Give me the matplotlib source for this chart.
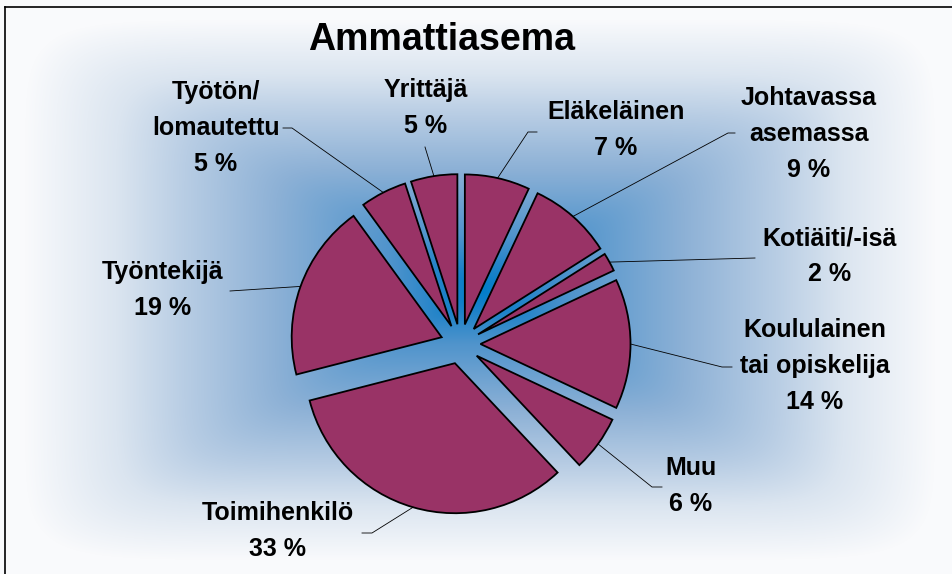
import numpy as np
import matplotlib
matplotlib.use("Agg")
import matplotlib.pyplot as plt

# data
categories = ["Eläkeläinen", "Johtavassa\nasemassa", "Kotiäiti/-isä",
              "Koululainen\ntai opiskelija", "Muu", "Toimihenkilö",
              "Työntekijä", "Työtön/\nlomautettu", "Yrittäjä"]
shares = [7, 9, 2, 14, 6, 33, 19, 5, 5]
chart_title = "Ammattiasema"

# label block centres and leader line tails (pixel coords, y from top)
label_pos = [(616, 130), (809, 134), (830, 256), (815, 366), (691, 486),
             (278, 531), (163, 290), (216, 128), (426, 108)]
leader_tail = [[(528, 132), (537, 132)], [(728, 133), (735, 133)], [(755, 258)],
               [(722, 367), (732, 367)], [(652, 487), (662, 487)],
               [(372, 533), (362, 533)], [(230, 291)],
               [(292, 128), (283, 128)], [(425, 147)]]

W, H = 953, 574


def fy(y):
    return H - y


plt.rcParams['font.family'] = ['Liberation Sans', 'DejaVu Sans']

fig = plt.figure(figsize=(W / 100, H / 100), dpi=100)
ax = fig.add_axes([0, 0, 1, 1])

###############################################################################
# background: rectangular gradient, blue centre fading to white
cx, cy, hx, hy = 480, 290, 455, 270
xx, yy = np.meshgrid(np.arange(W) + 0.5, np.arange(H) + 0.5)
p = 10.0  # high p-norm ~ rectangle with slightly softened diagonals
t = ((np.abs(xx - cx) / hx) ** p + (np.abs(yy - cy) / hy) ** p) ** (1 / p)
t = np.clip(t, 0, 1)
stops = [0.0, 0.08, 0.2, 0.45, 0.65, 0.8, 1.0]
rr = [0, 30, 80, 141, 184, 219, 249]
gg = [125, 130, 148, 177, 205, 229, 250]
bb = [200, 200, 204, 214, 228, 240, 252]
img = np.dstack([np.interp(t, stops, c) for c in (rr, gg, bb)]) / 255.0
ax.imshow(img, extent=(0, W, 0, H), origin='upper', zorder=0, interpolation='bilinear')

###############################################################################
# pie
wedges, _ = ax.pie(shares, explode=[20] * len(shares), startangle=90,
                   counterclock=False, radius=150, center=(460.5, fy(344)),
                   wedgeprops=dict(facecolor='#993366', edgecolor='black', linewidth=1.3),
                   frame=True)

for w, cat, val, (lx, ly), tail in zip(wedges, categories, shares, label_pos, leader_tail):
    th = np.deg2rad(0.5 * (w.theta1 + w.theta2))
    px = w.center[0] + w.r * np.cos(th)
    py = w.center[1] + w.r * np.sin(th)
    xs = [px] + [q[0] for q in tail]
    ys = [py] + [fy(q[1]) for q in tail]
    ax.plot(xs, ys, color='black', lw=0.6, zorder=3)
    ax.text(lx, fy(ly), f"{cat}\n{val} %", ha='center', va='center',
            multialignment='center', fontsize=18, fontweight='bold',
            linespacing=1.63, zorder=4)

ax.text(442, fy(40), chart_title, ha='center', va='center', fontsize=27,
        fontweight='bold')

# frame lines (top and left)
ax.plot([5, W], [fy(7), fy(7)], color='black', lw=1.2, zorder=5)
ax.plot([5, 5], [fy(7), 0], color='black', lw=1.2, zorder=5)

ax.set_xlim(0, W)
ax.set_ylim(0, H)
ax.axis('off')

plt.savefig('out.png', dpi=100)
